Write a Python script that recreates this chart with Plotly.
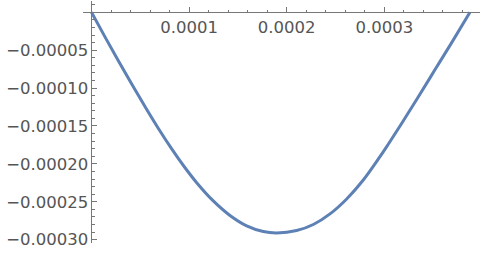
import plotly.graph_objects as go

# curve points
x_vals = [0, 1.38e-5, 2.75e-5, 4.12e-5, 5.48e-5, 6.84e-5, 8.22e-5, 9.51e-5,
          1.078e-4, 1.248e-4, 1.419e-4, 1.590e-4, 1.760e-4, 1.898e-4, 2.102e-4,
          2.273e-4, 2.444e-4, 2.615e-4, 2.785e-4, 2.956e-4, 3.041e-4, 3.178e-4,
          3.348e-4, 3.519e-4, 3.691e-4, 3.878e-4]
y_vals = [0, -3.24e-5, -6.39e-5, -9.47e-5, -1.243e-4, -1.529e-4, -1.802e-4, -2.038e-4,
          -2.248e-4, -2.489e-4, -2.681e-4, -2.818e-4, -2.893e-4, -2.911e-4, -2.880e-4,
          -2.800e-4, -2.660e-4, -2.463e-4, -2.213e-4, -1.905e-4, -1.741e-4, -1.467e-4,
          -1.118e-4, -7.59e-5, -4.0e-5, 0]

x_tick_vals = [0.0001, 0.0002, 0.0003]
x_tick_text = ["0.0001", "0.0002", "0.0003"]
y_tick_vals = [-0.00005, -0.00010, -0.00015, -0.00020, -0.00025, -0.00030]
y_tick_text = ["\u22120.00005", "\u22120.00010", "\u22120.00015",
               "\u22120.00020", "\u22120.00025", "\u22120.00030"]

axis_color = "#777777"
text_color = "#555555"
font = dict(family="DejaVu Sans", size=16.5, color=text_color)

fig = go.Figure()
fig.add_trace(go.Scatter(x=x_vals, y=y_vals, mode="lines",
                         line=dict(color="#5E81B5", width=3, shape="spline", smoothing=1.0),
                         hoverinfo="skip"))

x_range = [-8.7e-6, 3.981e-4]
y_range = [-3.044e-4, 1.49e-5]

fig.update_layout(
    width=480, height=256,
    margin=dict(l=83, r=0, t=1, b=13),
    paper_bgcolor="white", plot_bgcolor="white",
    showlegend=False,
    xaxis=dict(range=x_range, anchor="free", position=(0 - y_range[0]) / (y_range[1] - y_range[0]),
               showgrid=False, zeroline=False, showline=True, linecolor=axis_color, linewidth=1,
               tickmode="array", tickvals=x_tick_vals, ticktext=x_tick_text,
               ticks="inside", ticklen=5, tickcolor=axis_color, tickwidth=1,
               minor=dict(dtick=0.00002, tick0=0, ticks="inside", ticklen=2.5,
                          tickcolor=axis_color, showgrid=False),
               tickfont=font, side="bottom"),
    yaxis=dict(range=y_range, anchor="free", position=(0 - x_range[0]) / (x_range[1] - x_range[0]),
               showgrid=False, zeroline=False, showline=True, linecolor=axis_color, linewidth=1,
               tickmode="array", tickvals=y_tick_vals, ticktext=y_tick_text,
               ticks="inside", ticklen=5, tickcolor=axis_color, tickwidth=1,
               minor=dict(dtick=0.00001, tick0=0, ticks="inside", ticklen=2.5,
                          tickcolor=axis_color, showgrid=False),
               tickfont=font, side="left"),
)

fig.write_html("out.html")
